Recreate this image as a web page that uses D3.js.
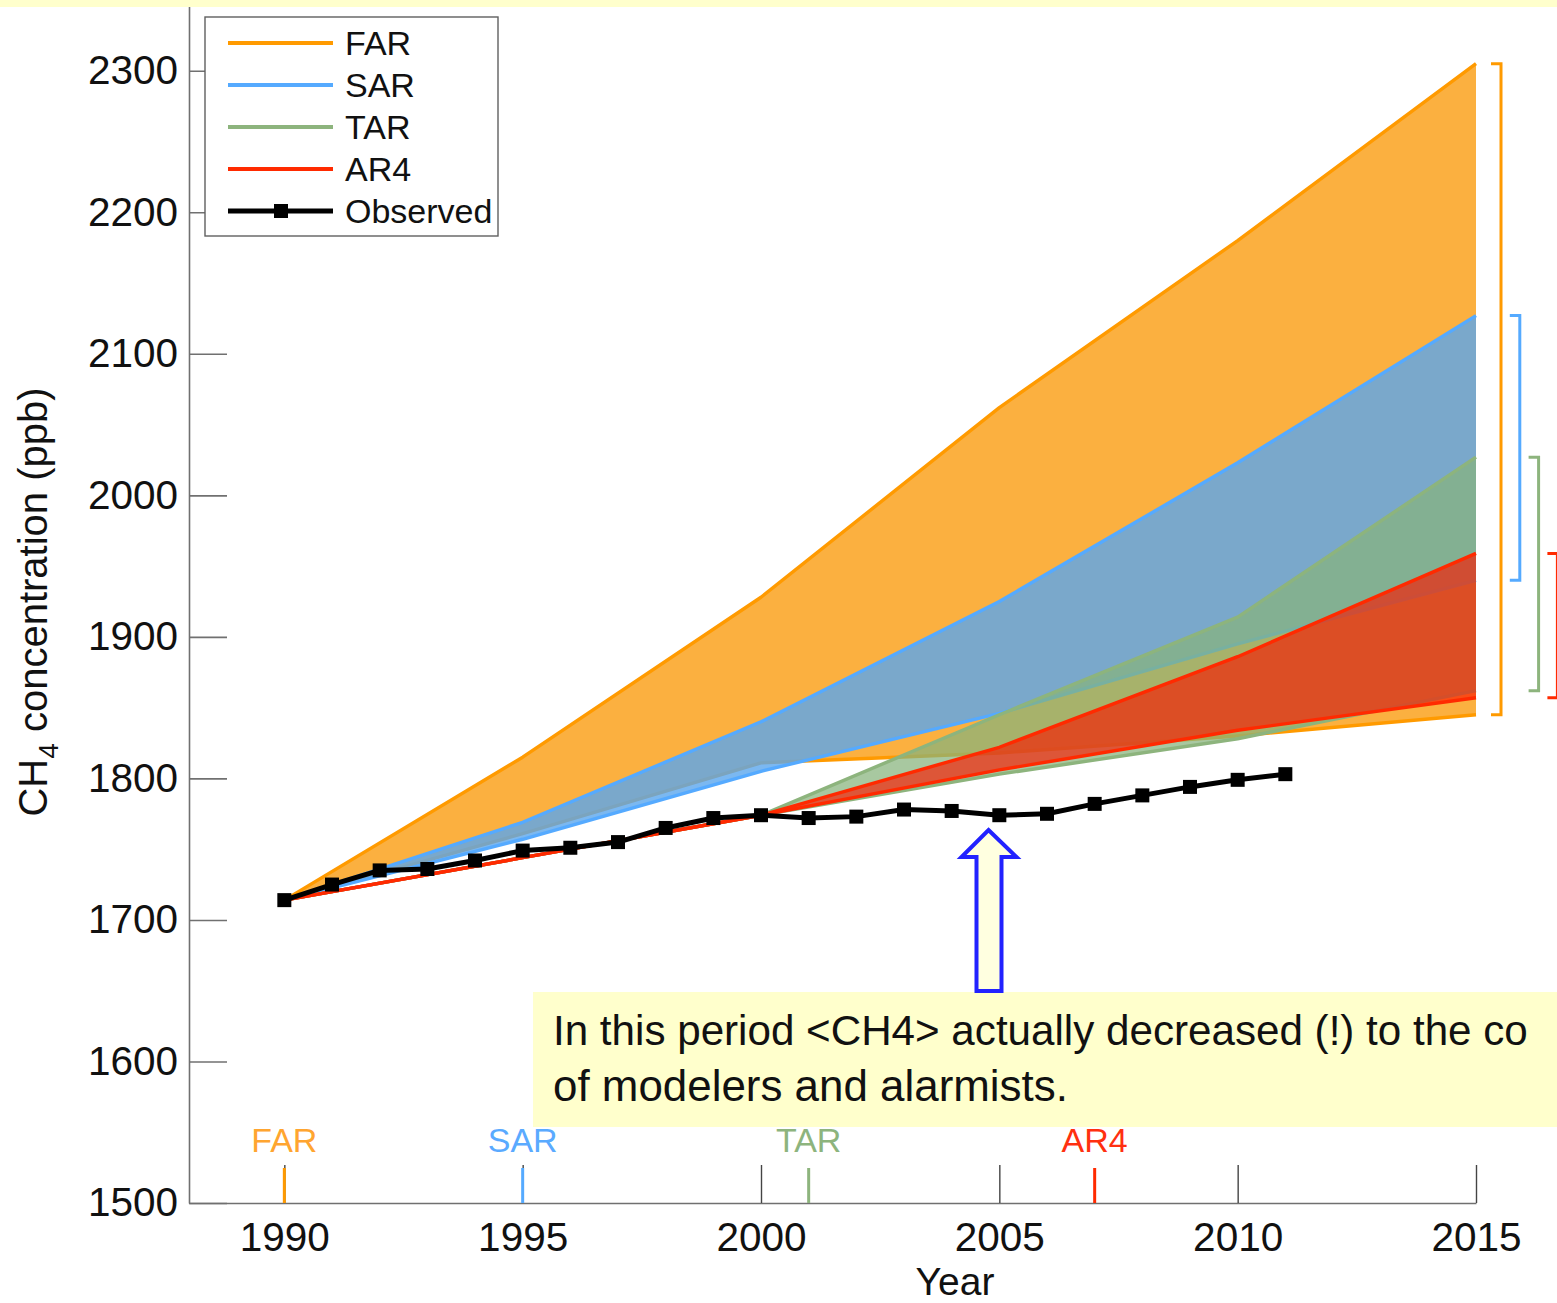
<!DOCTYPE html>
<html><head><meta charset="utf-8">
<script src="https://cdn.jsdelivr.net/npm/d3@7"></script>
<style>
body{margin:0;background:#fff;overflow:hidden}
svg{display:block}
text{font-family:"Liberation Sans",Arial,Helvetica,sans-serif}
</style>
</head><body>
<svg id="c" width="1557" height="1303"></svg>
<script>
// ---------------- data ----------------
const bandYears = [1990, 1995, 2000, 2005, 2010, 2015];
const farUpper = [1714, 1815, 1928, 2062, 2180, 2305];
const farLower = [1714, 1761, 1811, 1818, 1830, 1845];
const sarUpper = [1714, 1769, 1840, 1925, 2023, 2127];
const sarLower = [1714, 1757, 1805, 1846, 1895, 1940];
const tarUpper = [1714, 1744, 1774, 1845, 1914, 2027];
const tarLower = [1714, 1744, 1774, 1803, 1828, 1862];
const ar4Upper = [1714, 1744, 1774, 1822, 1886, 1959];
const ar4Lower = [1714, 1744, 1774, 1806, 1834, 1857];

const obsYears = [1990,1991,1992,1993,1994,1995,1996,1997,1998,1999,2000,2001,2002,2003,2004,2005,2006,2007,2008,2009,2010,2011];
const obsValues = [1714,1725,1735,1736,1742,1749,1751,1755,1765,1772,1774,1772,1773,1778,1777,1774,1775,1782,1788,1794,1799,1803];

const reportNames = ["FAR", "SAR", "TAR", "AR4"];
const reportYears = [1990, 1995, 2001, 2007];

const yTicks = [1500, 1600, 1700, 1800, 1900, 2000, 2100, 2200, 2300];
const xTicks = [1990, 1995, 2000, 2005, 2010, 2015];

const legendLabels = ["FAR", "SAR", "TAR", "AR4", "Observed"];

const noteLine1 = "In this period <CH4> actually decreased (!) to the co";
const noteLine2 = "of modelers and alarmists.";

// ---------------- styles ----------------
const lineColors = {FAR:"#FF9A00", SAR:"#55AAFF", TAR:"#8DB47D", AR4:"#FF2A00"};
const fillColors = {FAR:"#FBB040", SAR:"rgba(90,166,237,0.8)", TAR:"rgba(134,179,123,0.72)", AR4:"rgba(249,25,0,0.65)"};
const labelColors = {FAR:"#FFA530", SAR:"#5AAAFF", TAR:"#8DB47D", AR4:"#FF3010"};

const bands = [
  {name:"FAR", upper:farUpper, lower:farLower},
  {name:"SAR", upper:sarUpper, lower:sarLower},
  {name:"TAR", upper:tarUpper, lower:tarLower},
  {name:"AR4", upper:ar4Upper, lower:ar4Lower}
];

// ---------------- scales ----------------
const svg = d3.select("#c");
const x = d3.scaleLinear().domain([1988, 2015]).range([189, 1476]);
const y = d3.scaleLinear().domain([1500, 2350]).range([1203, 0]);

// ---------------- bands ----------------
const gBands = svg.append("g");
bands.forEach(b => {
  const idx = bandYears.map((d,i)=>i);
  const area = d3.area().x(i=>x(bandYears[i])).y0(i=>y(b.lower[i])).y1(i=>y(b.upper[i]));
  const lineU = d3.line().x(i=>x(bandYears[i])).y(i=>y(b.upper[i]));
  const lineL = d3.line().x(i=>x(bandYears[i])).y(i=>y(b.lower[i]));
  gBands.append("path").attr("d", area(idx)).attr("fill", fillColors[b.name]).attr("stroke","none");
  [lineL, lineU].forEach(l => gBands.append("path").attr("d", l(idx))
    .attr("fill","none").attr("stroke", lineColors[b.name]).attr("stroke-width",3.4)
    .attr("stroke-linejoin","round"));
});

// ---------------- observed ----------------
const obsIdx = obsYears.map((d,i)=>i);
svg.append("path")
  .attr("d", d3.line().x(i=>x(obsYears[i])).y(i=>y(obsValues[i]))(obsIdx))
  .attr("fill","none").attr("stroke","#000").attr("stroke-width",5).attr("stroke-linejoin","round");
svg.append("g").selectAll("rect").data(obsIdx).join("rect")
  .attr("x", i=>x(obsYears[i])-7).attr("y", i=>y(obsValues[i])-7)
  .attr("width",14).attr("height",14).attr("fill","#000");

// ---------------- right brackets ----------------
bands.forEach((b,k) => {
  const xv = x(2015) + 25 + k*18.8;
  const y1 = y(b.upper[b.upper.length-1]), y2 = y(b.lower[b.lower.length-1]);
  svg.append("path")
    .attr("d", `M${xv-10},${y1}H${xv}V${y2}H${xv-10}`)
    .attr("fill","none").attr("stroke", lineColors[b.name]).attr("stroke-width",3);
});

// ---------------- axes ----------------
const yAxis = svg.append("g").attr("transform","translate(189,0)")
  .call(d3.axisLeft(y).tickValues(yTicks).tickSizeInner(-38).tickSizeOuter(0).tickPadding(11).tickFormat(d3.format("d")));
yAxis.select(".domain").attr("stroke","#707070").attr("stroke-width",1.6);
yAxis.selectAll(".tick line").attr("stroke","#707070").attr("stroke-width",1.6);
yAxis.selectAll(".tick text").attr("font-size",40.5).attr("fill","#111").attr("font-family","Liberation Sans, Arial, sans-serif");

const xAxis = svg.append("g").attr("transform","translate(0,1203)")
  .call(d3.axisBottom(x).tickValues(xTicks).tickSizeInner(-38).tickSizeOuter(0).tickPadding(19).tickFormat(d3.format("d")));
xAxis.select(".domain").attr("stroke","#707070").attr("stroke-width",1.6);
xAxis.selectAll(".tick line").attr("stroke","#444").attr("stroke-width",1.4);
xAxis.selectAll(".tick text").attr("font-size",40.5).attr("fill","#111").attr("font-family","Liberation Sans, Arial, sans-serif");

// report markers on x axis
reportNames.forEach((n,i) => {
  const xp = x(reportYears[i]);
  svg.append("line").attr("x1",xp).attr("x2",xp).attr("y1",1168).attr("y2",1203)
    .attr("stroke", lineColors[n]).attr("stroke-width",3);
  svg.append("text").attr("x",xp).attr("y",1152).attr("text-anchor","middle")
    .attr("font-size",34).attr("fill",labelColors[n]).text(n);
});

// axis titles
svg.append("text").attr("x",955).attr("y",1295).attr("text-anchor","middle")
  .attr("font-size",39).attr("fill","#111").text("Year");
const yt = svg.append("text").attr("transform","translate(47,602) rotate(-90)")
  .attr("text-anchor","middle").attr("font-size",40).attr("fill","#111");
yt.append("tspan").text("CH");
yt.append("tspan").attr("font-size",28).attr("dy",11).text("4");
yt.append("tspan").attr("dy",-11).text(" concentration (ppb)");

// ---------------- legend ----------------
const lg = svg.append("g");
lg.append("rect").attr("x",205).attr("y",17).attr("width",293).attr("height",219)
  .attr("fill","#fff").attr("stroke","#606060").attr("stroke-width",1.4);
legendLabels.forEach((n,i) => {
  const ly = 43 + i*42;
  const col = i < 4 ? lineColors[n] : "#000";
  lg.append("line").attr("x1",228).attr("x2",333).attr("y1",ly).attr("y2",ly)
    .attr("stroke",col).attr("stroke-width", i<4 ? 4 : 5);
  if (i === 4) lg.append("rect").attr("x",274).attr("y",ly-7).attr("width",14).attr("height",14).attr("fill","#000");
  lg.append("text").attr("x",345).attr("y",ly+12).attr("font-size",34).attr("fill","#111").text(n);
});

// ---------------- annotation ----------------
svg.append("rect").attr("x",0).attr("y",0).attr("width",1557).attr("height",7).attr("fill","#FFFFCC");
svg.append("rect").attr("x",533).attr("y",992).attr("width",1024).attr("height",135).attr("fill","#FFFFCC");
const annFont = "Lato, 'Open Sans', sans-serif";
const t2 = svg.append("text").attr("x",553).attr("y",1101).attr("font-family",annFont)
  .attr("font-size",36).attr("fill","#111").text(noteLine2);
const w2 = t2.node().getComputedTextLength();
const fs = 36 * 515 / w2;
t2.attr("font-size", fs);
const t1 = svg.append("text").attr("x",553).attr("y",1045).attr("font-family",annFont)
  .attr("font-size",fs).attr("fill","#111").text(noteLine1);
const w1 = t1.node().getComputedTextLength();
if (w1 > 975) t1.attr("font-size", fs * 975 / w1);

// arrow
const ax = 988.5;
svg.append("path")
  .attr("d", `M${ax},830 L${ax+28},857 L${ax+13},857 L${ax+13},991 L${ax-12},991 L${ax-12},857 L${ax-27},857 Z`)
  .attr("fill","#FFFFE0").attr("stroke","#2222FF").attr("stroke-width",4).attr("stroke-linejoin","miter");
</script>
</body></html>
